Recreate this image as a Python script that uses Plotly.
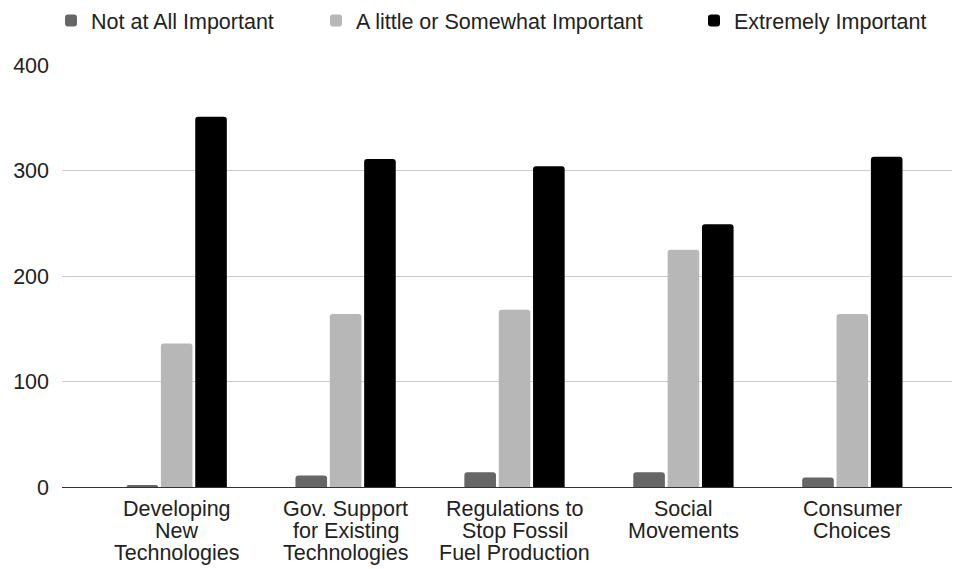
import plotly.graph_objects as go

categories = [
    "Developing\nNew\nTechnologies",
    "Gov. Support\nfor Existing\nTechnologies",
    "Regulations to\nStop Fossil\nFuel Production",
    "Social\nMovements",
    "Consumer\nChoices",
]
not_at_all = [2, 11, 14, 14, 9]
little_somewhat = [136, 164, 168, 225, 164]
extremely = [351, 311, 304, 249, 313]
y_ticks = [0, 100, 200, 300, 400]
series_names = ["Not at All Important", "A little or Somewhat Important", "Extremely Important"]
series_colors = ["#666666", "#b7b7b7", "#000000"]

FONT = "Liberation Sans, Arial, Helvetica, sans-serif"
FS = 21.5
TXT = "#222222"
W, H = 955, 569

fig = go.Figure()
legend_ids = ["legend", "legend2", "legend3"]
legend_sym_x = [76, 341, 719]  # symbol centre (px) of each legend entry
for name, vals, color, lid in zip(series_names, [not_at_all, little_somewhat, extremely],
                                   series_colors, legend_ids):
    fig.add_trace(go.Bar(
        x=list(range(len(categories))), y=vals, name=name, legend=lid,
        marker=dict(color=color, line=dict(width=0)),
    ))

legend_common = dict(orientation="h", xanchor="left", yanchor="top", xref="container",
                     yref="container", y=1.0, bgcolor="rgba(0,0,0,0)",
                     font=dict(family=FONT, size=FS, color=TXT))
legends = {}
for lid, sx in zip(legend_ids, legend_sym_x):
    d = dict(legend_common)
    d["x"] = (sx - 25) / W
    legends[lid] = d

fig.update_layout(
    width=W, height=H,
    margin=dict(l=62, r=3, t=65, b=82),
    paper_bgcolor="white", plot_bgcolor="white",
    font=dict(family=FONT, size=FS, color=TXT),
    barmode="group", bargap=0.39, bargroupgap=0.08,
    barcornerradius=3,
    showlegend=True,
    **legends,
)
fig.update_xaxes(
    tickmode="array", tickvals=list(range(len(categories))), showticklabels=False,
    range=[-0.679, 4.59], showgrid=False, zeroline=False,
    showline=True, linecolor="#333333", linewidth=1, ticks="",
)
fig.update_yaxes(
    range=[0, 400], tickvals=y_ticks, showgrid=True, gridcolor="#cccccc", gridwidth=1,
    zeroline=False, showline=False, ticks="", ticklabelstandoff=12,
    tickfont=dict(family=FONT, size=FS, color=TXT),
)

# category labels, one text line per annotation for tight line spacing
LINE = 22
for i, cat in enumerate(categories):
    for j, line in enumerate(cat.split("\n")):
        fig.add_annotation(
            x=i, xref="x", y=0, yref="paper", yanchor="top", xanchor="center",
            yshift=-8 - LINE * j, text=line, showarrow=False,
            font=dict(family=FONT, size=FS, color=TXT),
        )

fig.write_html("out.html")
